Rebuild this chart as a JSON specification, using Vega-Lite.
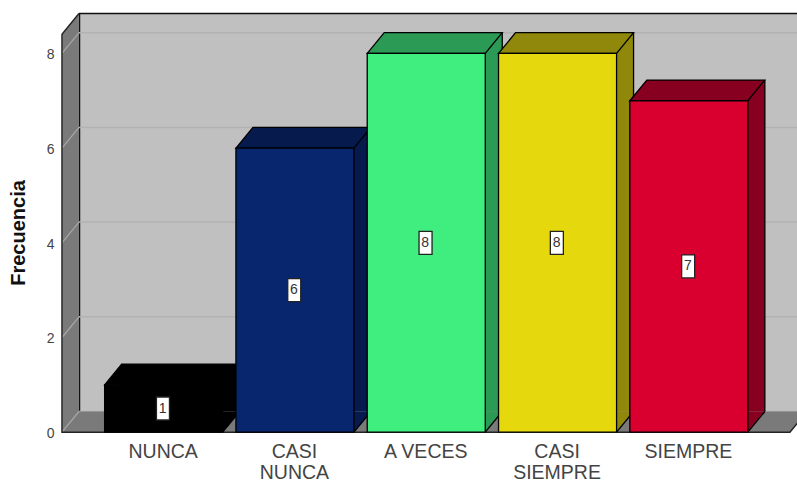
{
"$schema":"https://vega.github.io/schema/vega-lite/v6.json",
"width":718,"height":398,
"autosize":{"type":"none"},
"padding":{"left":79,"top":13.5,"right":0,"bottom":68.5},
"background":"white",
"view":{"fill":"#c0c0c0","stroke":null},
"config":{"font":"Liberation Sans"},
"datasets":{
 "bars":[{"cat":"NUNCA","n":1},{"cat":"CASI NUNCA","n":6},{"cat":"A VECES","n":8},{"cat":"CASI SIEMPRE","n":8},{"cat":"SIEMPRE","n":7}],
 "anchor":[{"t":0}],
 "top":[{"t":8.405}],
 "ticks":[{"t":0},{"t":2},{"t":4},{"t":6},{"t":8}]
},
"data":{"name":"bars"},
"encoding":{
 "x":{"field":"cat","type":"nominal","sort":null,
  "scale":{"type":"band","domain":["NUNCA","CASI NUNCA","A VECES","CASI SIEMPRE","SIEMPRE"],"range":[36,692.5],"paddingInner":0.101,"paddingOuter":0.0505},
  "axis":{"title":null,"domain":false,"ticks":false,"labelAngle":0,"labelFont":"Liberation Sans","labelFontSize":19.5,"labelColor":"#444444","labelOffset":-17.5,"labelPadding":31,"labelLineHeight":21,"labelExpr":"indexof(datum.label,'CASI')==0?split(datum.label,' '):datum.label","labelOverlap":false}},
 "y":{"field":"n","type":"quantitative",
  "scale":{"domain":[0,8.405],"nice":false,"zero":true},
  "axis":{"title":"Frecuencia","titleFont":"Liberation Sans","titleFontSize":20,"titleFontWeight":"bold","titleColor":"#111111","titleX":-51,"titleY":219,"values":[0,2,4,6,8],"format":"d","grid":false,"domain":true,"domainColor":"#111111","domainWidth":1.5,"ticks":false,"labelFont":"Liberation Sans","labelFontSize":14,"labelColor":"#444444","labelPadding":25,"labelOffset":22}}
},
"layer":[
 {"data":{"name":"ticks"},
  "mark":{"type":"rule","color":"#b2b2b2","strokeWidth":1.5},
  "encoding":{"x":{"value":0},"x2":{"value":718},"y":{"field":"t","type":"quantitative"}}},
 {"data":{"name":"anchor"},
  "mark":{"type":"point","shape":"M-101.7,0L-101.7,-398L-118.7,-377.3L-118.7,20.7L609.3,20.7L626.3,0Z","size":4,"filled":true,"fill":"#7a7a7a","stroke":null,"opacity":1},
  "encoding":{"x":{"datum":"NUNCA","type":"nominal"},"y":{"field":"t","type":"quantitative"}}},
 {"data":{"name":"ticks"},
  "mark":{"type":"point","shape":"M-101.7,0L-118.7,20.7","size":4,"filled":false,"stroke":"#a8a8a8","strokeWidth":1.2,"opacity":1},
  "encoding":{"x":{"datum":"NUNCA","type":"nominal"},"y":{"field":"t","type":"quantitative"}}},
 {"data":{"name":"anchor"},
  "mark":{"type":"point","shape":"M-101.7,-398L-118.7,-377.3L-118.7,20.7L609.3,20.7L626.3,0","size":4,"filled":false,"stroke":"#222222","strokeWidth":1.4,"opacity":1},
  "encoding":{"x":{"datum":"NUNCA","type":"nominal"},"y":{"field":"t","type":"quantitative"}}},
 {"data":{"name":"top"},
  "mark":{"type":"rule","color":"#111111","strokeWidth":1.5},
  "encoding":{"x":{"value":0},"x2":{"value":718},"y":{"field":"t","type":"quantitative"}}},
 {"mark":{"type":"bar","stroke":null},
  "encoding":{"fill":{"field":"cat","type":"nominal","legend":null,"scale":{"domain":["NUNCA","CASI NUNCA","A VECES","CASI SIEMPRE","SIEMPRE"],"range":["#000000","#061a4e","#2a9a55","#8f880a","#870020"]}}}},
 {"mark":{"type":"point","shape":"M59,0L42,20.7L42,0Z","size":4,"filled":true,"stroke":null,"opacity":1},
  "encoding":{"y":{"datum":0,"type":"quantitative"},"fill":{"field":"cat","type":"nominal","legend":null,"scale":{"domain":["NUNCA","CASI NUNCA","A VECES","CASI SIEMPRE","SIEMPRE"],"range":["#000000","#061a4e","#2a9a55","#8f880a","#870020"]}}}},
 {"mark":{"type":"rule","color":"#000000","strokeWidth":1.3,"xOffset":59},
  "encoding":{"y2":{"datum":0}}},
 {"mark":{"type":"point","shape":"M59,0L42,20.7","size":4,"filled":false,"stroke":"#000000","strokeWidth":1.3,"opacity":1},
  "encoding":{"y":{"datum":0,"type":"quantitative"}}},
 {"mark":{"type":"point","shape":"M-76,20.7L-59,0L59,0L42,20.7Z","size":4,"filled":true,"stroke":"#000000","strokeWidth":1.3,"opacity":1},
  "encoding":{"fill":{"field":"cat","type":"nominal","legend":null,"scale":{"domain":["NUNCA","CASI NUNCA","A VECES","CASI SIEMPRE","SIEMPRE"],"range":["#000000","#061a4e","#2a9a55","#8f880a","#870020"]}}}},
 {"mark":{"type":"bar","xOffset":-17,"yOffset":20.7,"stroke":"#000000","strokeWidth":1.3},
  "encoding":{"fill":{"field":"cat","type":"nominal","legend":null,"scale":{"domain":["NUNCA","CASI NUNCA","A VECES","CASI SIEMPRE","SIEMPRE"],"range":["#000000","#08266e","#40ee80","#e5d90e","#d90030"]}}}},
 {"transform":[{"calculate":"datum.n/2","as":"mid"}],
  "mark":{"type":"point","shape":"M-6.5,-11.5H6.5V11.5H-6.5Z","size":4,"filled":true,"fill":"white","stroke":"#222222","strokeWidth":1.3,"opacity":1,"xOffset":-17.7,"yOffset":20.7},
  "encoding":{"y":{"field":"mid","type":"quantitative"}}},
 {"transform":[{"calculate":"datum.n/2","as":"mid"}],
  "mark":{"type":"text","font":"Liberation Sans","fontSize":14,"color":"#333333","align":"center","baseline":"middle","xOffset":-18,"yOffset":20.7},
  "encoding":{"y":{"field":"mid","type":"quantitative"},"text":{"field":"n","type":"quantitative"}}}
],
"resolve":{"scale":{"fill":"independent"}}
}
